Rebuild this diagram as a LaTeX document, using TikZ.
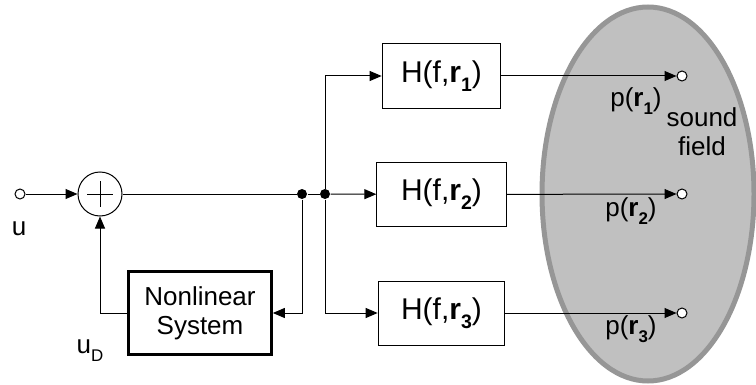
\documentclass[tikz,border=0pt]{standalone}
\usepackage{fontspec}
\setmainfont{Liberation Sans}
\usetikzlibrary{shapes.geometric, arrows.meta, positioning}
\definecolor{fieldfill}{HTML}{C0C0C0}
\definecolor{fieldline}{HTML}{969696}
\newcommand{\lowsub}[1]{\raisebox{-0.3em}{\scalebox{0.65}{#1}}}
\tikzstyle{filter} = [rectangle, draw=black, line width=0.75pt, minimum height=48pt, text centered, inner sep=0pt, font=\fontsize{22.5}{24}\selectfont]
\tikzstyle{nonlin} = [rectangle, draw=black, line width=2.25pt, minimum width=107pt, minimum height=62pt, align=center, inner sep=0pt, font=\fontsize{19.5}{22}\selectfont]
\tikzstyle{summer} = [circle, draw=black, line width=0.75pt, minimum size=33pt, inner sep=0pt]
\tikzstyle{port} = [circle, draw=black, fill=white, line width=0.75pt, minimum size=7.5pt, inner sep=0pt]
\tikzstyle{junction} = [circle, fill=black, minimum size=7.5pt, inner sep=0pt]
\tikzstyle{lbl} = [inner sep=0pt, font=\fontsize{19.5}{22}\selectfont]
\tikzstyle{field} = [ellipse, draw=fieldline, fill=fieldfill, line width=3.75pt, minimum width=159pt, minimum height=280.5pt, inner sep=0pt]

\begin{document}
\begin{tikzpicture}[x=0.75pt, y=-0.75pt, line width=0.75pt, >={Triangle[length=9pt, width=7.5pt]}]
        \useasboundingbox (0,0) rectangle (756,385);
        % sound field behind everything
        \node[field] (soundfield) at (648,194) {};

        \node[port] (in) at (20,194) {};
        \node[summer] (sum) at (100,194) {};
        \draw (sum.center) ++(-13,0) -- ++(26,0);
        \draw (sum.center) ++(0,-13) -- ++(0,26);
        \node[junction] (j1) at (302,194) {};
        \node[junction] (j2) at (325,194) {};
        \node[nonlin] (system) at (200,313) {Nonlinear\\System};

        \node[filter, minimum width=89pt] (H1) at (441.5,76) {H(f,\textbf{r}\lowsub{\textbf{1}})};
        \node[filter, minimum width=97pt] (H2) at (441.5,194.5) {H(f,\textbf{r}\lowsub{\textbf{2}})};
        \node[filter, minimum width=95pt] (H3) at (441.5,313) {H(f,\textbf{r}\lowsub{\textbf{3}})};

        \node[port] (o1) at (682,76) {};
        \node[port] (o2) at (682,194) {};
        \node[port] (o3) at (682,313) {};

        \node[lbl] (ulabel) at (19,229) {u};
        \node[lbl] (udlabel) at (90,351) {u\lowsub{D}};
        \node[lbl] (p1) at (636,101) {p(\textbf{r}\lowsub{\textbf{1}})};
        \node[lbl] (p2) at (631,211) {p(\textbf{r}\lowsub{\textbf{2}})};
        \node[lbl] (p3) at (631,329) {p(\textbf{r}\lowsub{\textbf{3}})};
        \node[lbl, align=center] (fieldlabel) at (702,132) {sound\\field};

        \draw[->] (in) -- (sum);
        \draw (sum) -- (j1) -- (j2);
        \draw[->] (j1) |- (system);
        \draw[->] (system) -| (sum);
        \draw[->] (j2) |- (H1);
        \draw[->] (j2) -- (H2);
        \draw[->] (j2) |- (H3);
        \draw[->] (H1) -- (o1);
        \draw[->] (H2) -- (o2);
        \draw[->] (H3) -- (o3);
    \end{tikzpicture}
\end{document}
